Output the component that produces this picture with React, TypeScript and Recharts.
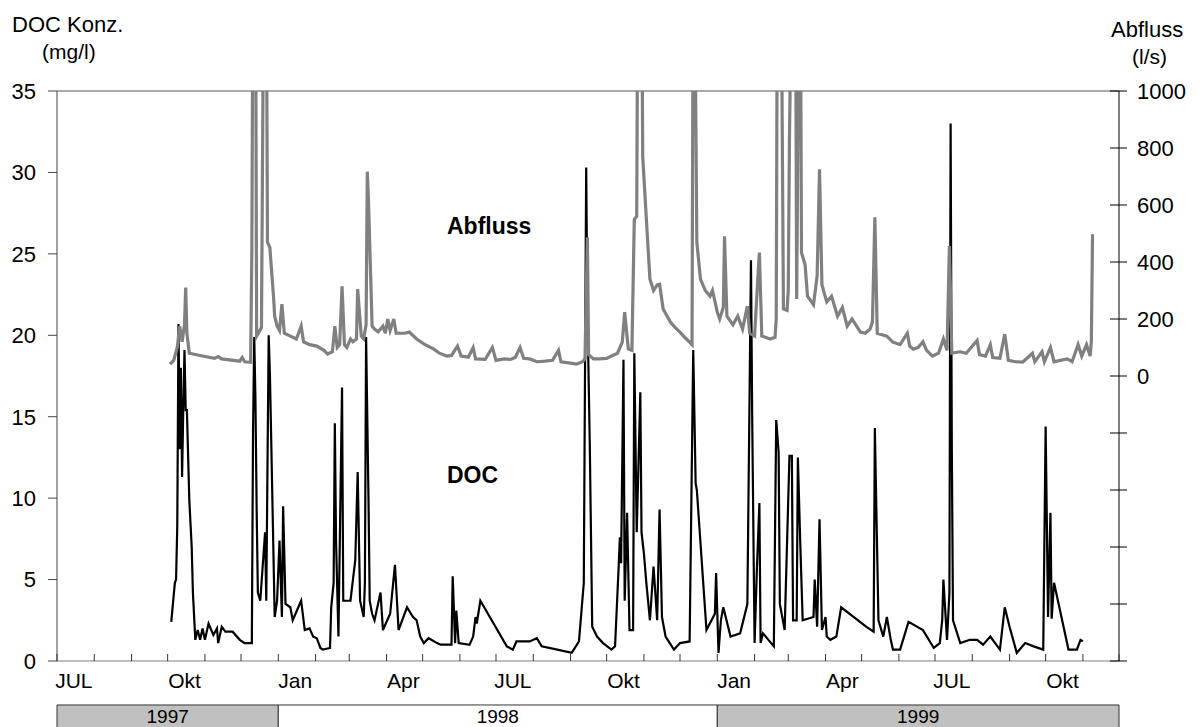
import { LineChart, Line, XAxis, YAxis, ReferenceArea, ReferenceLine } from "recharts";

const FONT = '"Liberation Sans", Arial, sans-serif';
const START = Date.UTC(1997, 6, 1);
const DAY_MS = 86400000;
const dayOf = (y: number, m: number, d: number) => Math.round((Date.UTC(y, m - 1, d) - START) / DAY_MS);

// days since 1 Jul 1997
const abflussDay = [
  94, 97, 100, 102, 104, 106, 107, 108, 110, 119,
  131, 134, 137, 152, 154, 156, 161, 162, 163, 165,
  166, 170, 172, 174, 175, 177, 180, 181, 183, 185,
  187, 189, 194, 199, 203, 205, 210, 216, 222, 225,
  229, 231, 233, 235, 237, 239, 241, 244, 246, 249,
  250, 253, 255, 257, 258, 259, 262, 264, 267, 271,
  273, 275, 277, 280, 282, 285, 289, 293, 299, 306,
  313, 318, 324, 328, 333, 336, 342, 346, 348, 356,
  362, 365, 372, 377, 381, 385, 388, 393, 399, 406,
  412, 417, 419, 427, 432, 437, 439, 441, 442, 446,
  451, 457, 461, 466, 470, 472, 475, 478, 480, 482,
  483, 486, 487, 491, 493, 496, 499, 501, 504, 510,
  514, 518, 522, 526, 528, 529, 530, 532, 535, 539,
  543, 545, 549, 551, 554, 555, 557, 562, 566, 570,
  574, 576, 580, 583, 584, 586, 593, 597, 598, 599,
  602, 604, 607, 608, 609, 611, 614, 615, 616, 618,
  619, 622, 624, 629, 632, 634, 636, 640, 644, 649,
  653, 657, 661, 668, 672, 676, 678, 680, 682, 690,
  695, 701, 707, 709, 712, 716, 720, 723, 728, 733,
  737, 740, 742, 744, 751, 756, 765, 767, 772, 776,
  778, 784, 788, 791, 797, 803, 811, 813, 819, 821,
  826, 829, 834, 840, 844, 849, 852, 856, 859, 860,
  861,
];

// l/s (peaks above 1000 run off the chart)
const abflussValue = [
  42, 55, 100, 175, 120, 180, 310, 150, 80, 72,
  62, 68, 60, 52, 65, 50, 48, 437, 1500, 1500,
  140, 170, 1500, 1500, 470, 450, 280, 210, 175, 160,
  252, 150, 140, 130, 175, 120, 110, 105, 90, 77,
  85, 175, 100, 110, 315, 110, 100, 130, 120, 130,
  305, 140, 130, 180, 717, 612, 175, 165, 155, 175,
  150, 200, 160, 200, 150, 150, 150, 154, 130, 110,
  95, 80, 70, 72, 105, 70, 66, 100, 60, 58,
  100, 55, 60, 58, 65, 100, 62, 60, 50, 52,
  55, 90, 50, 45, 42, 50, 60, 487, 75, 60,
  60, 62, 70, 80, 119, 224, 95, 90, 550, 560,
  1500, 1500, 770, 480, 340, 300, 320, 322, 235, 189,
  170, 154, 135, 119, 110, 1500, 1500, 470, 340, 300,
  280, 300, 224, 200, 240, 490, 210, 180, 210, 165,
  245, 150, 140, 364, 433, 140, 130, 136, 200, 1500,
  1500, 235, 230, 300, 830, 1500, 1500, 270, 855, 1500,
  433, 390, 280, 250, 350, 725, 320, 260, 280, 210,
  240, 175, 200, 154, 150, 165, 190, 557, 150, 140,
  119, 110, 150, 105, 94, 100, 120, 90, 70, 80,
  130, 90, 456, 80, 85, 80, 125, 75, 70, 110,
  65, 62, 147, 55, 50, 49, 80, 50, 85, 50,
  100, 50, 55, 60, 50, 110, 70, 110, 70, 120,
  497,
];

const docDay = [
  95, 98, 99, 100, 101, 102, 103, 104, 105, 106,
  107, 108, 110, 112, 113, 115, 117, 119, 121, 123,
  126, 130, 133, 134, 137, 140, 146, 152, 156, 162,
  163, 164, 165, 166, 167, 169, 171, 173, 174, 176,
  177, 178, 181, 183, 185, 187, 188, 190, 194, 196,
  203, 206, 210, 213, 216, 219, 221, 227, 228, 230,
  231, 232, 234, 237, 238, 244, 248, 250, 252, 255,
  256, 257, 259, 260, 262, 264, 269, 271, 277, 281,
  284, 291, 296, 299, 302, 305, 309, 316, 319, 328,
  329, 331, 332, 334, 343, 346, 348, 349, 352, 363,
  374, 379, 382, 393, 399, 403, 416, 428, 434, 438,
  440, 441, 443, 445, 449, 454, 461, 464, 467, 468,
  469, 471, 472, 474, 476, 479, 480, 482, 485, 486,
  488, 490, 493, 496, 499, 501, 503, 506, 513, 518,
  526, 529, 531, 532, 540, 547, 548, 550, 552, 554,
  560, 568, 574, 577, 578, 580, 582, 584, 585, 587,
  596, 598, 600, 601, 605, 609, 611, 612, 615, 616,
  618, 620, 629, 630, 632, 634, 636, 639, 640, 643,
  648, 652, 673, 679, 680, 681, 683, 687, 690, 693,
  695, 701, 708, 720, 729, 734, 736, 737, 740, 742,
  743, 744, 745, 751, 759, 765, 770, 776, 784, 788,
  792, 798, 805, 812, 820, 821, 822, 824, 826, 827,
  829, 841, 848, 851, 853,
];

// mg/l
const docValue = [
  2.4, 4.8, 5.0, 8.3, 20.7, 13.0, 18.0, 11.3, 15.5, 19.1,
  15.4, 15.4, 9.9, 7.0, 4.2, 1.3, 1.9, 1.3, 2.0, 1.3,
  2.3, 1.6, 2.0, 1.1, 2.1, 1.8, 1.8, 1.3, 1.1, 1.1,
  14.2, 19.9, 16.0, 9.3, 4.2, 3.7, 5.8, 7.9, 3.7, 20.0,
  17.7, 14.0, 2.7, 3.7, 7.4, 2.7, 9.5, 3.5, 3.3, 2.5,
  3.7, 1.9, 2.0, 1.5, 1.4, 0.8, 0.7, 0.8, 3.3, 4.8,
  14.6, 7.4, 1.5, 16.8, 3.7, 3.7, 6.2, 11.6, 3.7, 2.7,
  4.8, 19.9, 9.9, 3.7, 2.9, 2.5, 4.2, 1.9, 2.9, 5.9,
  1.9, 3.3, 2.7, 2.5, 1.5, 1.1, 1.4, 1.1, 1.0, 1.0,
  5.2, 1.1, 3.1, 1.1, 1.0, 1.5, 2.7, 2.3, 3.7, 2.3,
  0.9, 0.7, 1.2, 1.2, 1.4, 0.9, 0.7, 0.5, 1.2, 4.8,
  30.3, 21.7, 13.2, 2.1, 1.5, 1.1, 0.7, 0.9, 5.8, 7.6,
  6.0, 18.5, 3.7, 9.1, 1.9, 1.9, 18.9, 7.9, 16.5, 7.9,
  6.6, 4.8, 2.5, 5.8, 2.5, 9.3, 2.7, 1.5, 0.7, 1.1,
  1.2, 19.1, 10.9, 10.5, 1.9, 2.9, 5.4, 0.5, 2.5, 3.3,
  1.5, 1.7, 3.5, 24.6, 15.1, 1.1, 5.8, 9.7, 1.1, 1.7,
  0.9, 14.8, 12.8, 3.5, 1.9, 12.6, 12.6, 2.5, 2.5, 12.5,
  7.2, 2.5, 2.7, 5.0, 2.1, 8.7, 1.9, 2.7, 1.5, 1.3,
  1.5, 3.3, 2.1, 1.8, 14.3, 10.3, 2.5, 1.5, 2.7, 1.4,
  0.7, 0.7, 2.4, 1.9, 0.8, 1.1, 2.5, 5.0, 1.3, 4.2,
  33.0, 13.0, 2.5, 1.1, 1.3, 1.3, 1.0, 1.5, 0.7, 3.3,
  2.1, 0.5, 1.1, 0.9, 0.7, 7.5, 14.4, 2.7, 9.1, 2.6,
  4.8, 0.7, 0.7, 1.3, 1.2,
];

const monthLabelYear = [1997, 1997, 1998, 1998, 1998, 1998, 1999, 1999, 1999, 1999];
const monthLabelMonth = [7, 10, 1, 4, 7, 10, 1, 4, 7, 10];
const monthLabelText = ["JUL", "Okt", "Jan", "Apr", "JUL", "Okt", "Jan", "Apr", "JUL", "Okt"];

const yearLabels = ["1997", "1998", "1999"];
const yearFrom = [dayOf(1997, 7, 1), dayOf(1998, 1, 1), dayOf(1999, 1, 1)];
const yearTo = [dayOf(1998, 1, 1), dayOf(1999, 1, 1), dayOf(1999, 12, 1)];
const yearFill = ["#c0c0c0", "#ffffff", "#c0c0c0"];

const docTicks = [0, 5, 10, 15, 20, 25, 30, 35];
const abflussTicks = [-1000, -800, -600, -400, -200, 0, 200, 400, 600, 800, 1000];

const abflussData = abflussDay.map((day, i) => ({ day, q: abflussValue[i] }));
const docData = docDay.map((day, i) => ({ day, v: docValue[i] }));

const monthStarts = Array.from({ length: 30 }, (_, i) =>
  Math.round((Date.UTC(1997, 6 + i, 1) - START) / DAY_MS)
);
const labelByDay = new Map<number, string>();
monthLabelText.forEach((t, i) => labelByDay.set(dayOf(monthLabelYear[i], monthLabelMonth[i], 15), t));
const xTicks = [...monthStarts, ...labelByDay.keys()].sort((a, b) => a - b);

const XTick = (props: any) => {
  const { x, y, payload } = props;
  const label = labelByDay.get(payload.value);
  if (label) {
    return (
      <text x={x} y={y + 27} textAnchor="middle" fontSize={21} fontFamily={FONT} fill="#000">
        {label}
      </text>
    );
  }
  return <line x1={x} x2={x} y1={y - 7} y2={y} stroke="#333" strokeWidth={1} />;
};

const RightTick = (props: any) => {
  const { x, y, payload } = props;
  return (
    <g>
      <line x1={x - 9} x2={x + 8} y1={y} y2={y} stroke="#000" strokeWidth={1} />
      {payload.value >= 0 && (
        <text x={x + 18} y={y} dy="0.36em" textAnchor="start" fontSize={22} fontFamily={FONT} fill="#000">
          {payload.value}
        </text>
      )}
    </g>
  );
};

const App = () => {
  return (
    <div style={{ position: "absolute", left: 0, top: 0, width: 1202, height: 727, background: "#fff", overflow: "hidden" }}>
      <LineChart width={1202} height={727} margin={{ top: 91, right: 13, bottom: 36, left: 7 }}>
        <XAxis
          dataKey="day"
          type="number"
          domain={[0, monthStarts[monthStarts.length - 1]]}
          ticks={xTicks}
          interval={0}
          tick={<XTick />}
          tickLine={false}
          tickSize={0}
          tickMargin={0}
          height={30}
          stroke="#808080"
        />
        <YAxis
          yAxisId="left"
          domain={[0, 35]}
          ticks={docTicks}
          interval={0}
          width={50}
          tickSize={9}
          tickMargin={12}
          stroke="#444"
          tick={{ fontSize: 22, fill: "#000", fontFamily: FONT }}
        />
        <YAxis
          yAxisId="right"
          orientation="right"
          domain={[-1000, 1000]}
          ticks={abflussTicks}
          interval={0}
          allowDataOverflow
          width={70}
          tickSize={0}
          tickMargin={0}
          tickLine={false}
          stroke="#000"
          tick={<RightTick />}
        />
        <ReferenceLine yAxisId="left" y={35} stroke="#8c8c8c" strokeWidth={1.5} />
        {yearLabels.map((lab, i) => (
          <ReferenceArea
            key={lab}
            yAxisId="left"
            x1={yearFrom[i]}
            x2={yearTo[i]}
            y1={-2.7}
            y2={-4.4}
            ifOverflow="visible"
            fill={yearFill[i]}
            fillOpacity={1}
            stroke="#333"
            strokeWidth={1}
            label={{ value: lab, position: "insideTop", offset: 5, fontSize: 19, fill: "#000", fontFamily: FONT }}
          />
        ))}
        <Line
          yAxisId="left"
          data={docData}
          dataKey="v"
          type="linear"
          stroke="#000"
          strokeWidth={2.2}
          dot={false}
          isAnimationActive={false}
        />
        <Line
          yAxisId="right"
          data={abflussData}
          dataKey="q"
          type="linear"
          stroke="#808080"
          strokeWidth={3.2}
          dot={false}
          isAnimationActive={false}
        />
        <text x={12} y={32} fontSize={22} fontFamily={FONT} fill="#000">DOC Konz.</text>
        <text x={42} y={59} fontSize={21} fontFamily={FONT} fill="#000">(mg/l)</text>
        <text x={1111} y={37} fontSize={22} fontFamily={FONT} fill="#000">Abfluss</text>
        <text x={1132} y={64} fontSize={21} fontFamily={FONT} fill="#000">(l/s)</text>
        <text x={447} y={234} fontSize={23} fontWeight="bold" fontFamily={FONT} fill="#000">Abfluss</text>
        <text x={447} y={483} fontSize={23} fontWeight="bold" fontFamily={FONT} fill="#000">DOC</text>
      </LineChart>
    </div>
  );
};

export default App;
